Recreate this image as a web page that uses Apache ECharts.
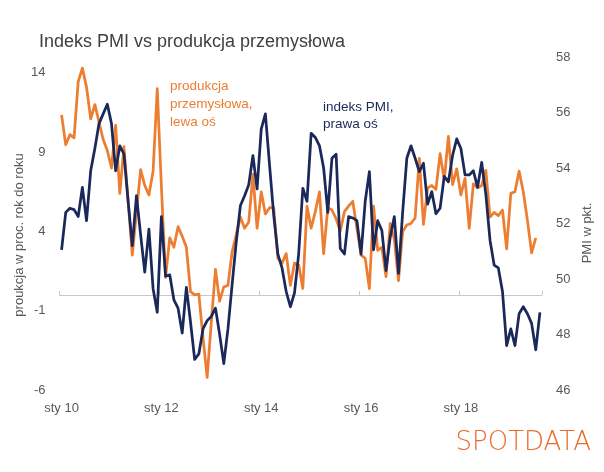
<!DOCTYPE html>
<html>
<head>
<meta charset="utf-8">
<script src="https://cdn.jsdelivr.net/npm/echarts@6/dist/echarts.min.js"></script>
<style>
  html, body { margin: 0; padding: 0; background: #fff; }
  #chart { width: 604px; height: 472px; }
</style>
</head>
<body>
<div id="chart"></div>
<script>
// miesiace i lata (oś X)
var miesiace = ['sty', 'lut', 'mar', 'kwi', 'maj', 'cze', 'lip', 'sie', 'wrz', 'paź', 'lis', 'gru'];
var lata = ['10', '11', '12', '13', '14', '15', '16', '17', '18', '19'];
var liczbaMiesiecy = 116; // sty 10 - sie 19

// produkcja przemysłowa r/r, lewa oś (brak danych za ostatni miesiąc)
var produkcja = [
	11.35, 9.46, 10.1, 9.9, 13.45, 14.3, 13.1, 11.1, 12.0, 10.9, 9.8, 9.1,
	8.0, 10.7, 6.4, 9.35, 5.9, 2.5, 5.2, 7.9, 6.9, 6.3, 7.8, 13.0,
	6.8, 1.1, 3.6, 3.0, 4.3, 3.7, 3.0, 0.2, 0.0, 0.05, -2.7, -5.2,
	-1.7, 1.6, -0.4, 0.5, 0.6, 2.7, 3.8, 4.9, 4.2, 4.6, 7.6, 4.2,
	6.5, 5.1, 5.5, 5.5, 2.3, 2.0, 2.6, 0.6, 2.0, 1.9, 0.4, 5.6,
	4.2, 5.25, 6.5, 2.6, 5.5, 5.35, 4.8, 4.0, 5.25, 5.6, 5.9, 4.2,
	2.5, 2.3, 0.4, 5.6, 2.8, 3.0, 1.15, 4.5, 3.5, 0.9, 4.0, 4.4,
	4.5, 4.85, 8.6, 4.45, 6.75, 6.9, 6.65, 8.9, 7.25, 10.0, 6.95, 7.95,
	6.3, 7.35, 4.2, 7.0, 6.75, 6.9, 7.85, 4.9, 5.2, 5.0, 5.35, 2.9,
	6.4, 6.5, 7.8, 6.5, 4.7, 2.65, 3.6, null
];

// indeks PMI, prawa oś
var pmi = [
	51.05, 52.4, 52.55, 52.5, 52.25, 53.3, 52.1, 53.9, 54.7, 55.6, 55.95, 56.3,
	55.6, 53.9, 54.8, 54.5, 52.8, 51.2, 53.0, 51.6, 50.25, 51.8, 49.65, 48.8,
	52.25, 50.1, 50.15, 49.25, 48.95, 48.05, 49.7, 48.45, 47.1, 47.3, 48.2, 48.5,
	48.65, 48.95, 48.0, 46.95, 48.2, 49.8, 51.35, 52.65, 53.0, 53.4, 54.45, 53.25,
	55.4, 55.95, 54.1, 52.3, 50.9, 50.4, 49.55, 49.0, 49.5, 50.9, 53.27, 52.8,
	55.25, 55.1, 54.8, 54.0, 52.4, 54.35, 54.5, 51.1, 50.9, 52.25, 52.2, 52.1,
	50.9, 52.8, 53.87, 51.05, 52.1, 51.75, 50.3, 51.5, 52.25, 50.2, 52.4, 54.35,
	54.8, 54.35, 53.87, 54.17, 52.7, 53.15, 52.35, 52.55, 53.7, 53.5, 54.45, 55.05,
	54.7, 53.75, 53.75, 53.9, 53.3, 54.2, 53.05, 51.4, 50.5, 50.4, 49.55, 47.6,
	48.2, 47.6, 48.75, 49.0, 48.75, 48.4, 47.45, 48.8
];

// etykiety osi
var lewaOsEtykiety = [-6, -1, 4, 9, 14];
var prawaOsMin = 46, prawaOsMax = 58;

var kategorie = [];
for (var i = 0; i < liczbaMiesiecy; i++) {
	kategorie.push(miesiace[i % 12] + ' ' + lata[Math.floor(i / 12)]);
}

var czcionka = 'Liberation Sans';
var szary = '#595959';
var pomarancz = '#ED7D31';
var granat = '#1b285a';

var myChart = echarts.init(document.getElementById('chart'), null, { renderer : 'canvas' });

var option = {
	animation : false,
	backgroundColor : '#ffffff',
	title : {
		text : 'Indeks PMI vs produkcja przemysłowa',
		left : 34,
		top : 28,
		textStyle : {
			fontFamily : czcionka,
			fontSize : 18,
			fontWeight : 'normal',
			color : '#404040'
		}
	},
	grid : {
		left : 59.5,
		right : 62,
		top : 57,
		bottom : 82,
		containLabel : false
	},
	xAxis : [ {
		type : 'category',
		data : kategorie,
		boundaryGap : true,
		axisLine : { show : false, onZero : false },
		axisTick : { show : false },
		axisLabel : {
			interval : 23,
			margin : 12,
			fontFamily : czcionka,
			fontSize : 13,
			color : szary
		},
		splitLine : { show : false }
	}, {
		// linia zera z podziałką
		type : 'category',
		data : kategorie,
		boundaryGap : true,
		position : 'bottom',
		axisLine : {
			show : true,
			onZero : true,
			onZeroAxisIndex : 0,
			lineStyle : { color : '#c8c8c8', width : 1 }
		},
		axisTick : {
			show : true,
			inside : true,
			interval : 23,
			length : 4,
			lineStyle : { color : '#c8c8c8' }
		},
		axisLabel : { show : false },
		splitLine : { show : false }
	} ],
	yAxis : [ {
		type : 'value',
		min : -6,
		max : 15,
		interval : 1,
		axisLine : { show : false },
		axisTick : { show : false },
		splitLine : { show : false },
		axisLabel : {
			margin : 14,
			fontFamily : czcionka,
			fontSize : 13,
			color : szary,
			formatter : function(v) {
				return lewaOsEtykiety.indexOf(v) >= 0 ? String(v) : '';
			}
		}
	}, {
		type : 'value',
		min : prawaOsMin,
		max : prawaOsMax,
		interval : 2,
		position : 'right',
		axisLine : { show : false },
		axisTick : { show : false },
		splitLine : { show : false },
		axisLabel : {
			margin : 14,
			fontFamily : czcionka,
			fontSize : 13,
			color : szary
		}
	} ],
	series : [ {
		name : 'produkcja przemysłowa',
		type : 'line',
		xAxisIndex : 0,
		yAxisIndex : 0,
		data : produkcja,
		showSymbol : false,
		connectNulls : false,
		lineStyle : { color : pomarancz, width : 2.75, join : 'round' },
		itemStyle : { color : pomarancz }
	}, {
		name : 'indeks PMI',
		type : 'line',
		xAxisIndex : 0,
		yAxisIndex : 1,
		data : pmi,
		showSymbol : false,
		lineStyle : { color : granat, width : 2.75, join : 'round' },
		itemStyle : { color : granat }
	} ],
	graphic : [ {
		// nazwa lewej osi
		type : 'text',
		x : 19,
		y : 235,
		rotation : Math.PI / 2,
		style : {
			text : 'proukcja w proc. rok do roku',
			fontFamily : czcionka,
			fontSize : 13,
			fill : szary,
			align : 'center',
			verticalAlign : 'middle'
		}
	}, {
		// nazwa prawej osi
		type : 'text',
		x : 587,
		y : 233,
		rotation : Math.PI / 2,
		style : {
			text : 'PMI w pkt.',
			fontFamily : czcionka,
			fontSize : 13,
			fill : szary,
			align : 'center',
			verticalAlign : 'middle'
		}
	}, {
		type : 'text',
		left : 170,
		top : 77,
		style : {
			text : 'produkcja\nprzemysłowa,\nlewa oś',
			fontFamily : czcionka,
			fontSize : 13.5,
			lineHeight : 18,
			fill : pomarancz
		}
	}, {
		type : 'text',
		left : 323,
		top : 99,
		style : {
			text : 'indeks PMI,\nprawa oś',
			fontFamily : czcionka,
			fontSize : 13.5,
			lineHeight : 17,
			fill : granat
		}
	}, {
		type : 'text',
		right : 13,
		top : 430,
		style : {
			text : 'SPOTDATA',
			fontFamily : 'DejaVu Sans',
			fontWeight : 200,
			fontSize : 26,
			fill : '#EA6B2D'
		}
	} ]
};

myChart.setOption(option);
</script>
</body>
</html>
